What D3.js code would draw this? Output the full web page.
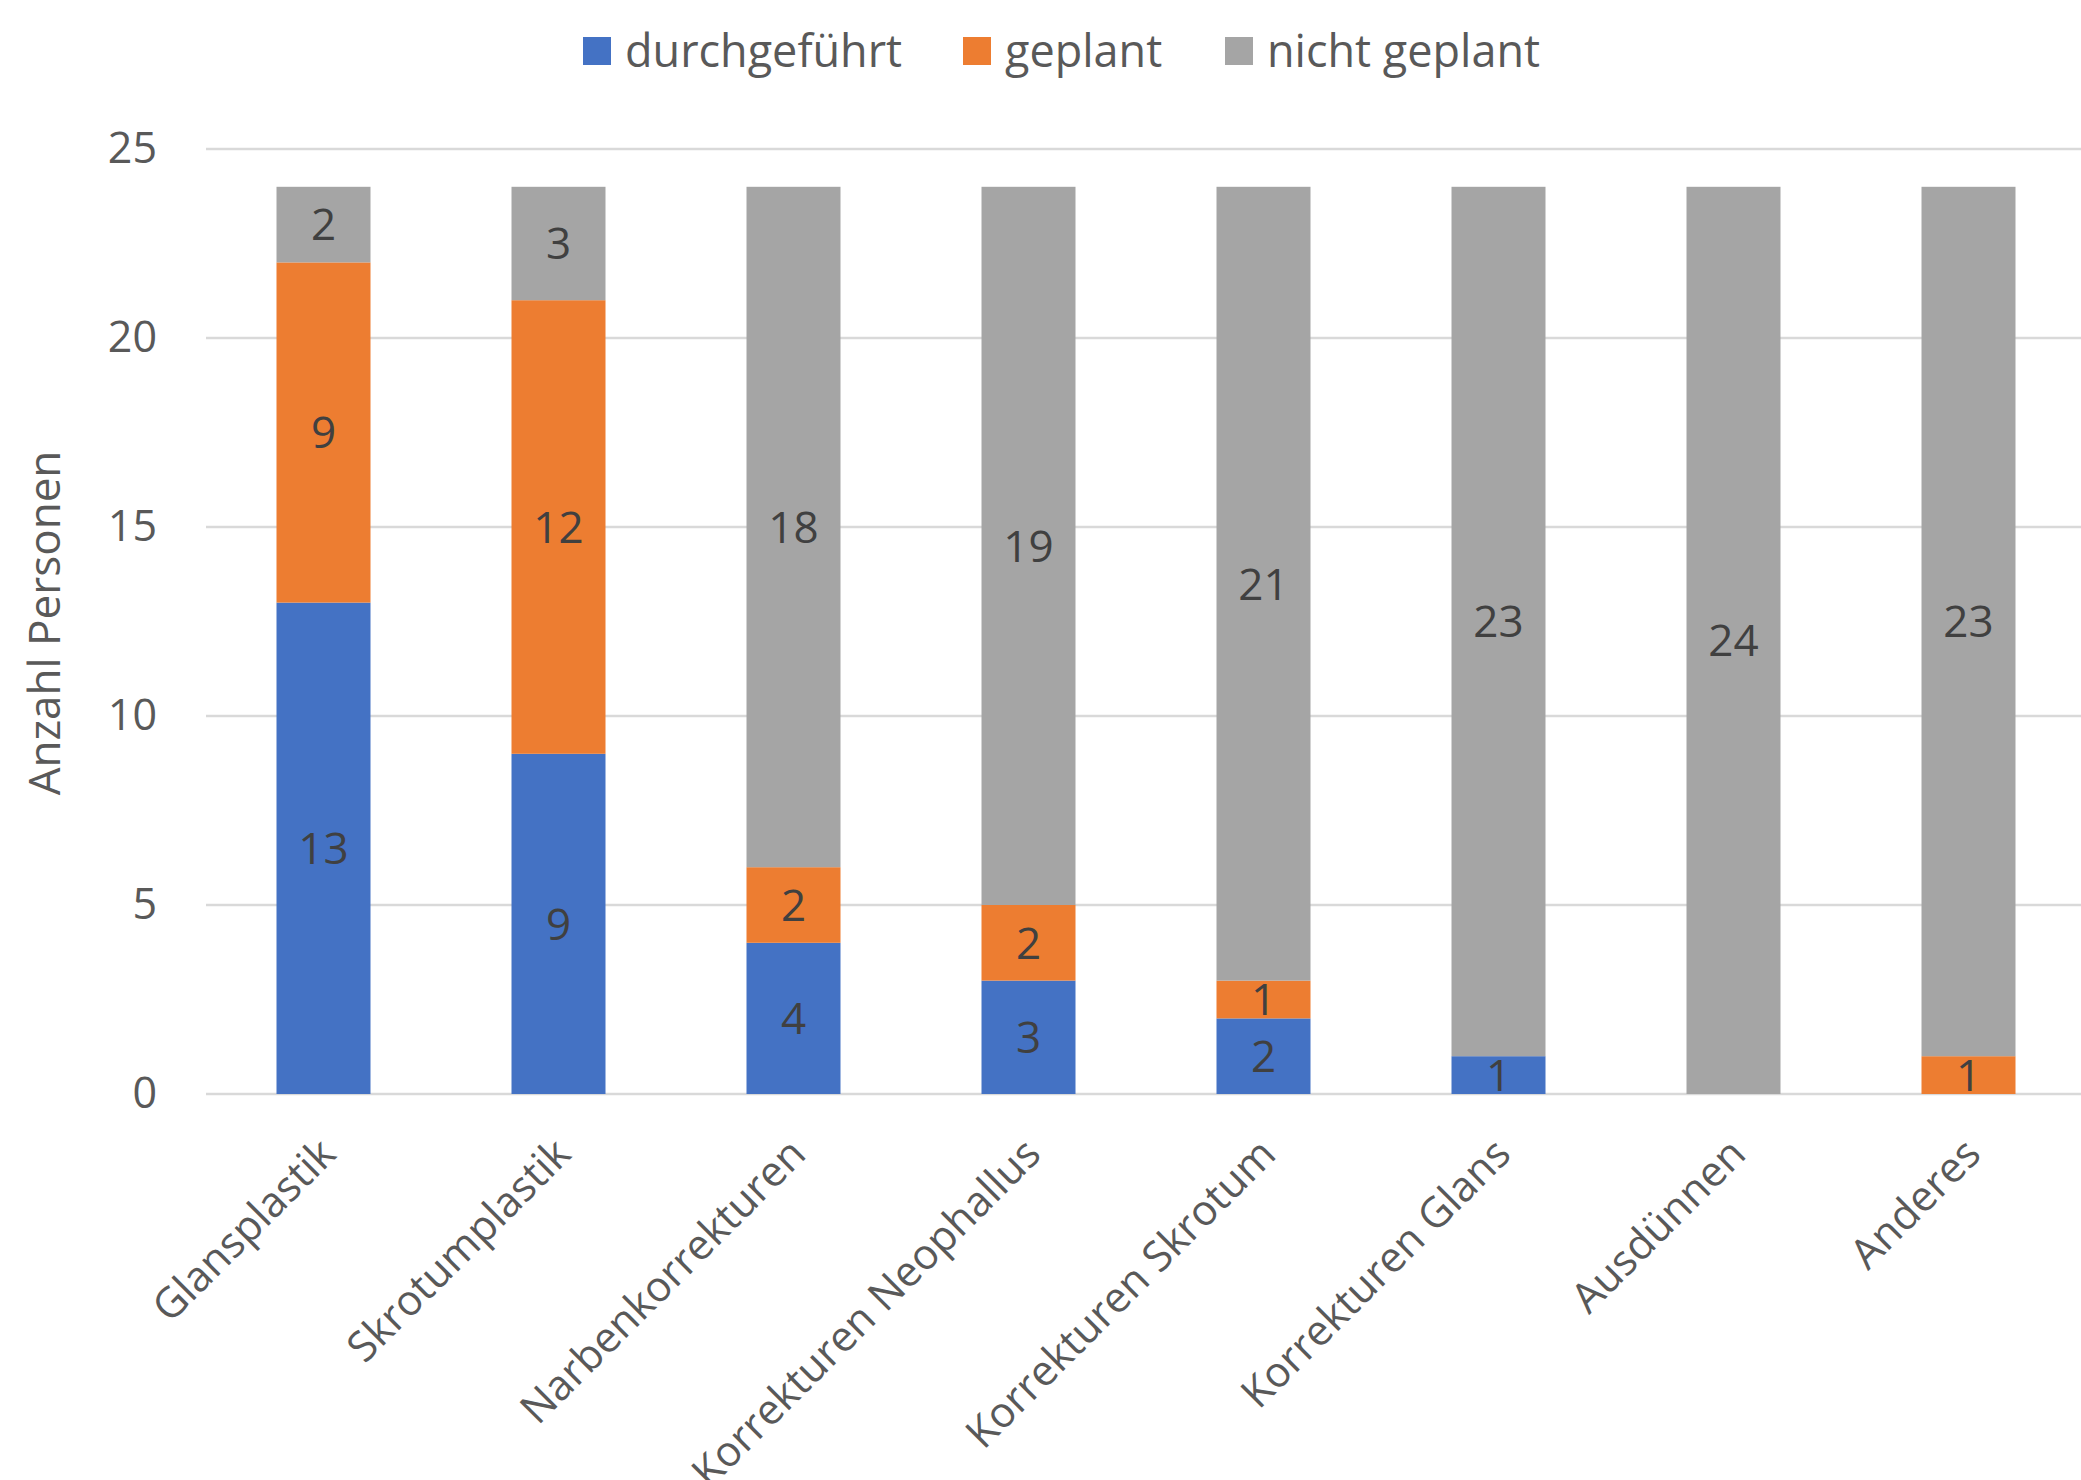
<!DOCTYPE html>
<html>
<head>
<meta charset="utf-8">
<script src="https://cdn.jsdelivr.net/npm/d3@7"></script>
<style>
  body { margin: 0; background: #fff; }
  text { font-family: "Open Sans", sans-serif; }
</style>
</head>
<body>
<script>
// chart data
var categories = ["Glansplastik", "Skrotumplastik", "Narbenkorrekturen", "Korrekturen Neophallus",
  "Korrekturen Skrotum", "Korrekturen Glans", "Ausdünnen", "Anderes"];
var seriesNames = ["durchgeführt", "geplant", "nicht geplant"];
var durchgefuehrt = [13, 9, 4, 3, 2, 1, 0, 0];
var geplant = [9, 12, 2, 2, 1, 0, 0, 1];
var nichtGeplant = [2, 3, 18, 19, 21, 23, 24, 23];
var yTicks = [0, 5, 10, 15, 20, 25];
var colors = ["#4472C4", "#ED7D31", "#A5A5A5"];

var width = 2081, height = 1480;

var svg = d3.select("body").append("svg")
    .attr("width", width)
    .attr("height", height);

var rows = categories.map(function(c, i) {
  return {cat: c, "durchgeführt": durchgefuehrt[i], "geplant": geplant[i], "nicht geplant": nichtGeplant[i]};
});

var stack = d3.stack().keys(seriesNames);
var layers = stack(rows);

var x = d3.scaleBand()
    .domain(categories)
    .range([206, 2086])
    .paddingInner(0.6)
    .paddingOuter(0.3);

var y = d3.scaleLinear()
    .domain([0, 25])
    .range([1094, 149]);

// gridlines
svg.append("g")
  .selectAll("line")
  .data(yTicks)
  .enter().append("line")
    .attr("x1", 206)
    .attr("x2", 2081)
    .attr("y1", function(d) { return y(d); })
    .attr("y2", function(d) { return y(d); })
    .attr("stroke", "#d9d9d9")
    .attr("stroke-width", 2.5);

// y axis labels
var yAxis = d3.axisLeft(y).tickValues(yTicks).tickSize(0).tickPadding(0);
var gy = svg.append("g")
    .attr("transform", "translate(157,0)")
    .call(yAxis);
gy.select(".domain").remove();
gy.selectAll("text")
    .attr("font-size", 43)
    .attr("fill", "#595959")
    .style("font-family", "'Open Sans', sans-serif");

// bars
var layer = svg.append("g")
  .selectAll("g")
  .data(layers)
  .enter().append("g")
    .attr("fill", function(d, i) { return colors[i]; });

layer.selectAll("rect")
  .data(function(d) { return d; })
  .enter().append("rect")
    .attr("x", function(d) { return x(d.data.cat); })
    .attr("width", x.bandwidth())
    .attr("y", function(d) { return y(d[1]); })
    .attr("height", function(d) { return y(d[0]) - y(d[1]); });

// value labels
layer.selectAll("text")
  .data(function(d) { return d.filter(function(s) { return s[1] - s[0] > 0; }); })
  .enter().append("text")
    .attr("x", function(d) { return x(d.data.cat) + x.bandwidth() / 2; })
    .attr("y", function(d) { return y((d[0] + d[1]) / 2); })
    .attr("dy", "0.36em")
    .attr("text-anchor", "middle")
    .attr("font-size", 44)
    .attr("fill", "#404040")
    .text(function(d) { return d[1] - d[0]; });

// x labels
svg.append("g")
  .selectAll("text")
  .data(categories)
  .enter().append("text")
    .attr("transform", function(d) {
      return "translate(" + (x(d) + x.bandwidth() / 2 + 4) + ",1146) rotate(-45)";
    })
    .attr("text-anchor", "end")
    .attr("dy", "0.35em")
    .attr("font-size", 42)
    .attr("fill", "#595959")
    .text(function(d) { return d; });

// y title
svg.append("text")
    .attr("transform", "translate(45,623) rotate(-90)")
    .attr("text-anchor", "middle")
    .attr("dy", "0.35em")
    .attr("font-size", 44)
    .attr("fill", "#595959")
    .text("Anzahl Personen");

// legend
var legendX = [583, 963, 1225];
var legend = svg.append("g")
  .selectAll("g")
  .data(seriesNames)
  .enter().append("g")
    .attr("transform", function(d, i) { return "translate(" + legendX[i] + ",37)"; });

legend.append("rect")
    .attr("width", 28)
    .attr("height", 28)
    .attr("fill", function(d, i) { return colors[i]; });

legend.append("text")
    .attr("x", 42)
    .attr("y", 14)
    .attr("dy", "0.36em")
    .attr("font-size", 45)
    .attr("fill", "#595959")
    .text(function(d) { return d; });
</script>
</body>
</html>
